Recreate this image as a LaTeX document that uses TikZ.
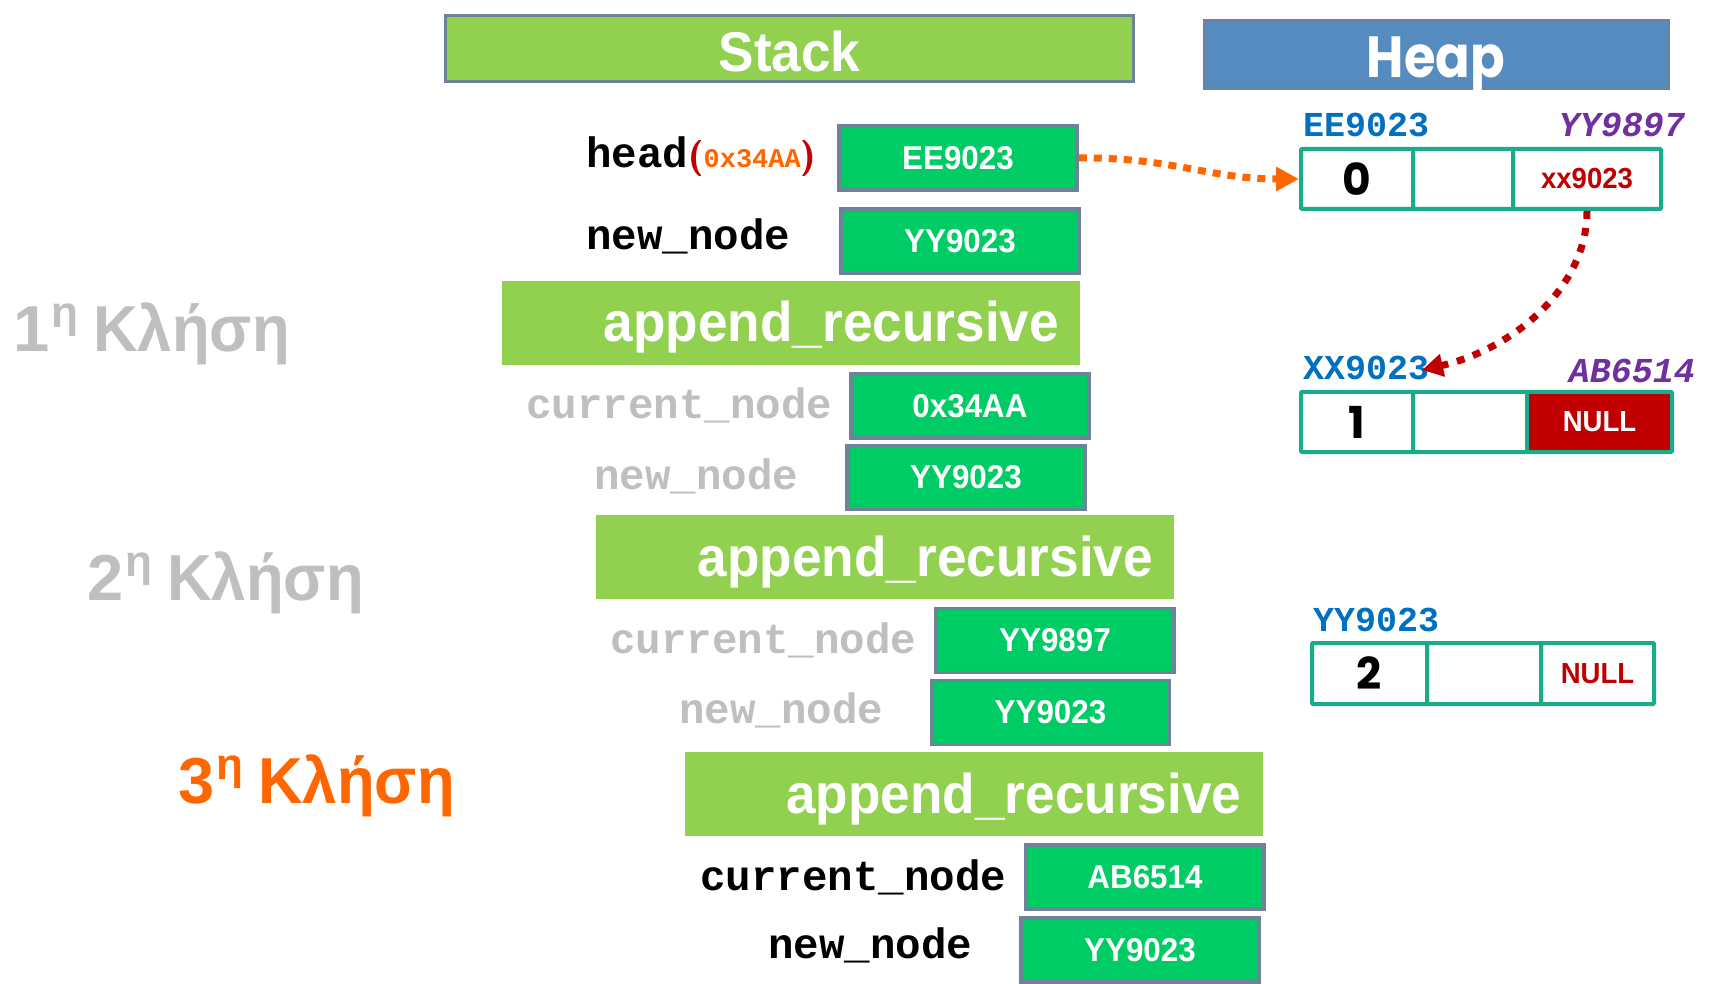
\documentclass[tikz,border=0pt]{standalone}
\usepackage{fontspec}
\setmainfont{Liberation Sans}
\newfontfamily\monofont{Liberation Mono}
\newfontfamily\boxfont[FakeStretch=0.95]{Liberation Sans}
\newfontfamily\barfont[FakeStretch=0.95]{Liberation Sans}
\newfontfamily\roundfont{Poppins}
\newfontfamily\headfont[FakeStretch=0.88]{Poppins}
\usetikzlibrary{arrows.meta}
\newcommand\sz[1]{\fontsize{#1}{#1}\selectfont}

\definecolor{bargreen}{HTML}{92D050}
\definecolor{cellgreen}{HTML}{00CC66}
\definecolor{edgegray}{HTML}{6E8399}
\definecolor{heapblue}{HTML}{558BBF}
\definecolor{cellteal}{HTML}{18AC8A}
\definecolor{addrblue}{HTML}{0070C0}
\definecolor{addrpurple}{HTML}{7030A0}
\definecolor{darkred}{HTML}{C00000}
\definecolor{callorange}{HTML}{FF6600}
\definecolor{callgray}{HTML}{BFBFBF}

% "Nη Κλήση" call labels
\newcommand\call[1]{#1\kern2pt\raisebox{24pt}{\sz{44}η}\kern15pt{\barfont Κλήση}}

\begin{document}
\begin{tikzpicture}[x=1pt,y=-1pt,
  title/.style={draw=edgegray, line width=3pt, text=white, inner sep=0pt},
  valbox/.style={draw=edgegray, fill=cellgreen, line width=3.5pt, text=white,
    minimum width=238pt, minimum height=64pt, inner sep=0pt,
    font=\boxfont\bfseries\sz{33}},
  framebar/.style={fill=bargreen, text=white, inner xsep=21pt, inner ysep=0pt,
    text width=536pt, align=right, minimum height=84pt,
    text height=44pt, text depth=6pt, font=\barfont\bfseries\sz{56}},
  varname/.style={anchor=base west, inner sep=0pt, font=\monofont\bfseries\sz{42.5}},
  callname/.style={anchor=base west, inner sep=0pt, font=\bfseries\sz{65}},
  addr/.style={inner sep=0pt, font=\monofont\bfseries\sz{35}},
  cell/.style={draw=cellteal, line width=4pt, inner sep=0pt, rounded corners=1pt},
  digit/.style={font=\roundfont\bfseries\sz{44}},
  ptr/.style={font=\boxfont\bfseries\sz{29}}
]
\useasboundingbox (0,0) rectangle (1709,984);
\fill[white] (0,0) rectangle (1709,984);

% section headers
\node[title, fill=bargreen, minimum width=688pt, minimum height=66pt,
      text height=47pt, text depth=0pt,
      font=\boxfont\bfseries\sz{56}] (stack) at (789.5,48.5) {Stack};
\node[title, fill=heapblue, minimum width=464pt, minimum height=68pt,
      text height=50pt, text depth=3.4pt,
      font=\headfont\bfseries\sz{58}] (heap) at (1436,54.5) {Heap};

% main's frame
\node[varname] (lhead) at (586,168) {head{\normalfont\sffamily\bfseries\sz{36}\color{darkred}(}{\sz{27}\color{callorange}0x34AA}{\normalfont\sffamily\bfseries\sz{36}\color{darkred})}};
\node[valbox] (vhead) at (958,158) {EE9023};
\node[varname] (lnew0) at (586,250) {new\_node};
\node[valbox] (vnew0) at (960,241) {YY9023};

% first call
\node[callname, text=callgray] (call1) at (13,352) {\call{1}};
\node[framebar] (frame1) at (791,323) {append\_recursive};
\node[varname, text=callgray] (lcur1) at (526,418) {current\_node};
\node[valbox] (vcur1) at (970,406) {0x34AA};
\node[varname, text=callgray] (lnew1) at (594,489) {new\_node};
\node[valbox] (vnew1) at (966,477.5) {YY9023};

% second call
\node[callname, text=callgray] (call2) at (87,600) {\call{2}};
\node[framebar] (frame2) at (885,557) {append\_recursive};
\node[varname, text=callgray] (lcur2) at (610,653) {current\_node};
\node[valbox] (vcur2) at (1055,640.5) {YY9897};
\node[varname, text=callgray] (lnew2) at (679,723) {new\_node};
\node[valbox] (vnew2) at (1050.5,712.5) {YY9023};

% third call
\node[callname, text=callorange] (call3) at (178,803) {\call{3}};
\node[framebar] (frame3) at (973.5,794) {append\_recursive};
\node[varname] (lcur3) at (700,890) {current\_node};
\node[valbox] (vcur3) at (1145,877) {AB6514};
\node[varname] (lnew3) at (768,958) {new\_node};
\node[valbox] (vnew3) at (1140,950) {YY9023};

% heap node EE9023
\node[addr, anchor=base west, text=addrblue] (a0) at (1303,137) {EE9023};
\node[addr, anchor=base east, text=addrpurple] (b0) at (1685,137) {\itshape YY9897};
\node[cell, minimum width=112pt, minimum height=60pt] (n0a) at (1357,179) {};
\node[cell, minimum width=100pt, minimum height=60pt] (n0b) at (1463,179) {};
\node[cell, minimum width=148pt, minimum height=60pt] (n0c) at (1587,179) {};
\node[digit] (d0) at (n0a) {0};
\node[ptr, text=darkred] (p0) at (n0c) {xx9023};

% heap node XX9023
\node[addr, anchor=base west, text=addrblue] (a1) at (1303,380) {XX9023};
\node[addr, anchor=base east, text=addrpurple] (b1) at (1695,383) {\itshape AB6514};
\node[cell, minimum width=112pt, minimum height=60pt] (n1a) at (1357,422) {};
\node[cell, minimum width=114pt, minimum height=60pt] (n1b) at (1470,422) {};
\node[cell, fill=darkred, minimum width=145pt, minimum height=60pt] (n1c) at (1599.5,422) {};
\node[digit] (d1) at (n1a) {1};
\node[ptr, text=white] (p1) at (n1c) {NULL};

% heap node YY9023
\node[addr, anchor=base west, text=addrblue] (a2) at (1313,631) {YY9023};
\node[cell, minimum width=115pt, minimum height=61pt] (n2a) at (1369.5,673.5) {};
\node[cell, minimum width=114pt, minimum height=61pt] (n2b) at (1484,673.5) {};
\node[cell, minimum width=113pt, minimum height=61pt] (n2c) at (1597.5,673.5) {};
\node[digit] (d2) at (n2a) {2};
\node[ptr, text=darkred] (p2) at (n2c) {NULL};

% pointers
\coordinate (tip1) at (1422,370);
\draw[callorange, line width=7pt, dash pattern=on 8pt off 7pt,
      -{Triangle[length=23pt,width=23pt]}]
  (vhead.east) .. controls (1170,157) and (1210,179) .. (n0a.west);
\draw[darkred, line width=7pt, dash pattern=on 8pt off 9pt,
      -{Triangle[length=21pt,width=22pt]}]
  (n0c.south) .. controls (1587,290) and (1510,350) .. (tip1);
\end{tikzpicture}
\end{document}
